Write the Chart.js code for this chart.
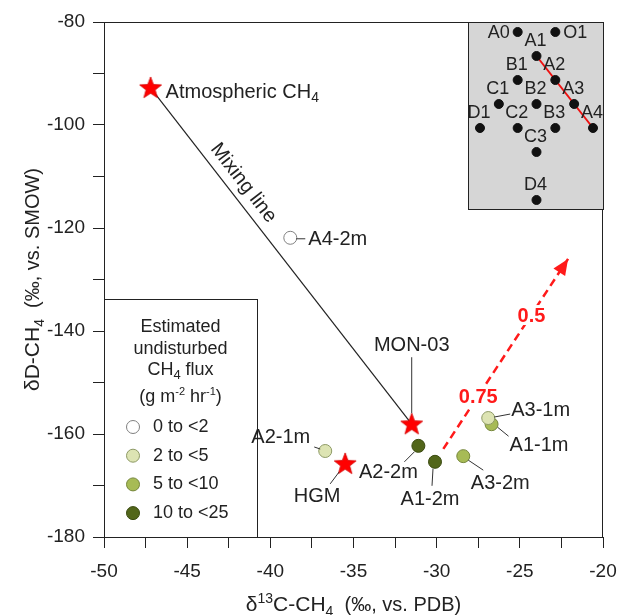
<!DOCTYPE html>
<html lang="en">
<head>
  <meta charset="UTF-8">
  <title>dD vs d13C of CH4</title>
  <script src="https://cdn.jsdelivr.net/npm/chart.js"></script>
  <style>
    body { margin: 0; background: #ffffff; }
    .wrap { position: relative; width: 620px; height: 615px; }
    #inset { position: absolute; left: 468px; top: 22px; width: 136px; height: 188px; }
  </style>
</head>
<body>
  <div class="wrap">
    <canvas id="mainChart" width="620" height="615"></canvas>
    <div id="inset"><canvas id="insetChart" width="136" height="188"></canvas></div>
  </div>

  <script>
    // samples, coloured by estimated undisturbed CH4 flux class
    const sampleNames = ['A4-2m', 'A2-1m', 'A2-2m', 'A1-2m', 'A3-2m', 'A3-1m', 'A1-1m'];
    const sampleD13C = [-38.8, -36.7, -31.1, -30.1, -28.4, -26.9, -26.7];
    const sampleDD = [-121.9, -163.3, -162.3, -165.4, -164.3, -156.9, -158.1];
    const sampleFlux = [0, 1, 3, 3, 2, 1, 2];
    const fluxClasses = ['0 to <2', '2 to <5', '5 to <10', '10 to <25'];

    // end members (stars)
    const endNames = ['Atmospheric CH4', 'MON-03', 'HGM'];
    const endD13C = [-47.2, -31.5, -35.5];
    const endDD = [-92.8, -158.1, -165.8];

    // oxidation trend arrow + fraction labels
    const oxD13C = [-29.6, -22.1];
    const oxDD = [-162.9, -126.0];
    const oxLabels = ['0.75', '0.5'];
    const oxLabelD13C = [-27.5, -24.3];
    const oxLabelDD = [-152.8, -136.9];

    // inset: sampling grid
    const siteNames = ['A0', 'O1', 'A1', 'B1', 'A2', 'C1', 'B2', 'A3', 'D1', 'C2', 'B3', 'A4', 'C3', 'D4'];
    const siteCol = [2, 4, 3, 2, 4, 1, 3, 5, 0, 2, 4, 6, 3, 3];
    const siteRow = [0, 0, 1, 2, 2, 3, 3, 3, 4, 4, 4, 4, 5, 7];
    const transect = ['A1', 'A4'];

    const FONT = '"Liberation Sans", Arial, sans-serif';
    const fluxFill = ['#ffffff', '#dde4b3', '#a7bb55', '#52661a'];
    const fluxBorder = ['#808080', '#8e9a66', '#76873c', '#3a4a10'];

    // label placement (pixels from the point)
    const labelStyle = {
      'A4-2m': { dx: 18, dy: 2, align: 'left', lead: [6, 1, 15, 1] },
      'A2-1m': { dx: -15, dy: -14, align: 'right', lead: [-11, -4, -5, -2] },
      'A2-2m': { dx: -30, dy: 27, align: 'center', lead: [-4, 6, -14, 16] },
      'A1-2m': { dx: -5, dy: 38, align: 'center', lead: [-2, 7, -3, 24] },
      'A3-2m': { dx: 37, dy: 27, align: 'center', lead: [5, 4, 20, 14] },
      'A3-1m': { dx: 23, dy: -8, align: 'left', lead: [6, -1, 22, -4] },
      'A1-1m': { dx: 18, dy: 21, align: 'left', lead: [6, 3, 17, 12] },
      'Atmospheric CH4': { dx: 15, dy: 5, align: 'left' },
      'MON-03': { dx: 0, dy: -79, align: 'center', lead: [0, -67, 0, -11] },
      'HGM': { dx: -28, dy: 33, align: 'center', lead: [-6, 8, -15, 20] }
    };

    // draw text made of pieces: [text, size, dy]
    function richText(ctx, segs, x, y, align) {
      let w = 0;
      segs.forEach(s => { ctx.font = s[1] + 'px ' + FONT; w += ctx.measureText(s[0]).width; });
      let cx = align === 'center' ? x - w / 2 : (align === 'right' ? x - w : x);
      ctx.textAlign = 'left';
      segs.forEach(s => {
        ctx.font = s[1] + 'px ' + FONT;
        ctx.fillText(s[0], cx, y + (s[2] || 0));
        cx += ctx.measureText(s[0]).width;
      });
    }

    function labelSegs(name) {
      if (name === 'Atmospheric CH4') return [['Atmospheric CH', 20], ['4', 14, 5]];
      return [[name, 20]];
    }

    // filled red star for end members
    const star = document.createElement('canvas');
    star.width = 24; star.height = 24;
    (function () {
      const c = star.getContext('2d');
      c.beginPath();
      for (let i = 0; i < 10; i++) {
        const r = i % 2 ? 4.8 : 11.5;
        const a = -Math.PI / 2 + i * Math.PI / 5;
        c.lineTo(12 + r * Math.cos(a), 12.5 + r * Math.sin(a));
      }
      c.closePath();
      c.fillStyle = '#ff0000';
      c.fill();
      c.strokeStyle = '#d40000';
      c.lineWidth = 0.8;
      c.stroke();
    })();

    const fluxSets = fluxClasses.map((cls, k) => ({
      type: 'scatter',
      label: cls,
      data: sampleNames.map((n, i) => ({ x: sampleD13C[i], y: sampleDD[i], f: sampleFlux[i] })).filter(p => p.f === k),
      backgroundColor: fluxFill[k],
      borderColor: fluxBorder[k],
      borderWidth: 1,
      pointRadius: 6.5,
      order: 1
    }));

    const framePlugin = {
      id: 'frame',
      beforeDatasetsDraw(chart) {
        const ca = chart.chartArea, ctx = chart.ctx;
        ctx.save();
        ctx.strokeStyle = '#222';
        ctx.lineWidth = 1;
        ctx.strokeRect(ca.left + 0.5, ca.top + 0.5, ca.width - 1, ca.height);
        ctx.restore();
      },
      afterDraw(chart) {
        const ctx = chart.ctx, ca = chart.chartArea;
        ctx.save();
        ctx.fillStyle = '#222';
        ctx.textBaseline = 'alphabetic';
        // x title
        richText(ctx, [['\u03b4', 21], ['13', 14, -8], ['C-CH', 21], ['4', 14, 5], ['  (\u2030, vs. PDB)', 20]],
          (ca.left + ca.right) / 2, 611, 'center');
        // y title
        ctx.translate(39, (ca.top + ca.bottom) / 2);
        ctx.rotate(-Math.PI / 2);
        richText(ctx, [['\u03b4D-CH', 21], ['4', 14, 5], ['  (\u2030, vs. SMOW)', 20]], 0, 0, 'center');
        ctx.restore();
      }
    };

    const notePlugin = {
      id: 'notes',
      afterDatasetsDraw(chart) {
        const ctx = chart.ctx, xs = chart.scales.x, ys = chart.scales.y, ca = chart.chartArea;
        ctx.save();
        ctx.textBaseline = 'middle';
        ctx.lineWidth = 1;

        // legend box
        const L = ca.left, R = ca.left + 153, T = 299, B = ca.bottom;
        ctx.fillStyle = '#ffffff';
        ctx.fillRect(L, T, R - L, B - T);
        ctx.strokeStyle = '#222';
        ctx.strokeRect(L + 0.5, T + 0.5, R - L, B - T);
        ctx.fillStyle = '#222';
        const cx = (L + R) / 2;
        richText(ctx, [['Estimated', 18]], cx, T + 28, 'center');
        richText(ctx, [['undisturbed', 18]], cx, T + 50, 'center');
        richText(ctx, [['CH', 18], ['4', 13, 5], [' flux', 18]], cx, T + 71, 'center');
        richText(ctx, [['(g m', 18], ['-2', 11, -5], [' hr', 18], ['-1', 11, -5], [')', 18]], cx, T + 98, 'center');
        fluxSets.forEach((ds, k) => {
          const y = T + 128 + k * 28.7;
          ctx.beginPath();
          ctx.arc(L + 29, y, ds.pointRadius, 0, Math.PI * 2);
          ctx.fillStyle = ds.backgroundColor;
          ctx.fill();
          ctx.strokeStyle = ds.borderColor;
          ctx.stroke();
          ctx.fillStyle = '#222';
          richText(ctx, [[ds.label, 18]], L + 49, y, 'left');
        });

        ctx.fillStyle = '#222';
        ctx.strokeStyle = '#333';
        const put = (name, px, py) => {
          const st = labelStyle[name];
          if (st.lead) {
            ctx.beginPath();
            ctx.moveTo(px + st.lead[0], py + st.lead[1]);
            ctx.lineTo(px + st.lead[2], py + st.lead[3]);
            ctx.stroke();
          }
          richText(ctx, labelSegs(name), px + st.dx, py + st.dy, st.align);
        };
        sampleNames.forEach((n, i) => put(n, xs.getPixelForValue(sampleD13C[i]), ys.getPixelForValue(sampleDD[i])));
        endNames.forEach((n, i) => put(n, xs.getPixelForValue(endD13C[i]), ys.getPixelForValue(endDD[i])));

        // mixing line label, along the line
        const ax = xs.getPixelForValue(endD13C[0]), ay = ys.getPixelForValue(endDD[0]);
        const bx = xs.getPixelForValue(endD13C[1]), by = ys.getPixelForValue(endDD[1]);
        const ang = Math.atan2(by - ay, bx - ax);
        const t = 0.31;
        ctx.save();
        ctx.translate(ax + (bx - ax) * t + 15 * Math.sin(ang), ay + (by - ay) * t - 15 * Math.cos(ang));
        ctx.rotate(ang);
        richText(ctx, [['Mixing line', 20]], 0, 0, 'center');
        ctx.restore();

        // arrow head on oxidation line
        const m = chart.getDatasetMeta(1).data;
        const a2 = Math.atan2(m[1].y - m[0].y, m[1].x - m[0].x);
        ctx.fillStyle = '#ff1a1a';
        ctx.beginPath();
        ctx.moveTo(m[1].x, m[1].y);
        ctx.lineTo(m[1].x - 16 * Math.cos(a2) + 7 * Math.sin(a2), m[1].y - 16 * Math.sin(a2) - 7 * Math.cos(a2));
        ctx.lineTo(m[1].x - 16 * Math.cos(a2) - 7 * Math.sin(a2), m[1].y - 16 * Math.sin(a2) + 7 * Math.cos(a2));
        ctx.closePath();
        ctx.fill();

        // fraction labels
        ctx.font = 'bold 20px ' + FONT;
        ctx.textAlign = 'center';
        oxLabels.forEach((txt, i) => {
          const px = xs.getPixelForValue(oxLabelD13C[i]), py = ys.getPixelForValue(oxLabelDD[i]);
          const w = ctx.measureText(txt).width;
          ctx.fillStyle = '#ffffff';
          ctx.fillRect(px - w / 2 - 2, py - 10, w + 4, 20);
          ctx.fillStyle = '#ff1a1a';
          ctx.fillText(txt, px, py + 1);
        });
        ctx.restore();
      }
    };

    const tickFont = { size: 19, family: FONT };

    new Chart(document.getElementById('mainChart'), {
      type: 'scatter',
      data: {
        datasets: [
          {
            type: 'line',
            label: 'Mixing line',
            data: [{ x: endD13C[0], y: endDD[0] }, { x: endD13C[1], y: endDD[1] }],
            borderColor: '#222',
            borderWidth: 1.2,
            pointRadius: 0,
            order: 2
          },
          {
            type: 'line',
            label: 'Oxidation',
            data: oxD13C.map((x, i) => ({ x: x, y: oxDD[i] })),
            borderColor: '#ff1a1a',
            borderWidth: 2.5,
            borderDash: [8, 5],
            pointRadius: 0,
            order: 2
          },
          ...fluxSets,
          {
            type: 'scatter',
            label: 'End members',
            data: endNames.map((n, i) => ({ x: endD13C[i], y: endDD[i] })),
            pointStyle: star,
            order: 0
          }
        ]
      },
      options: {
        responsive: false,
        animation: false,
        devicePixelRatio: 1,
        layout: { autoPadding: false, padding: { top: 22, right: 17, left: 0, bottom: 0 } },
        plugins: { legend: { display: false }, tooltip: { enabled: false } },
        scales: {
          x: {
            type: 'linear', min: -50, max: -20,
            ticks: {
              stepSize: 2.5, autoSkip: false, maxRotation: 0, padding: 12,
              color: '#222', font: tickFont,
              callback: v => (v % 5 === 0 ? v : '')
            },
            grid: { drawOnChartArea: false, tickLength: 11, color: '#222' },
            border: { color: '#222', width: 1 },
            afterFit: s => { s.height = 78; s.paddingLeft = 0; s.paddingRight = 0; }
          },
          y: {
            type: 'linear', min: -180, max: -80,
            ticks: {
              stepSize: 10, autoSkip: false, padding: 8,
              color: '#222', font: tickFont,
              callback: v => (v % 20 === 0 ? v : '')
            },
            grid: { drawOnChartArea: false, tickLength: 11, color: '#222' },
            border: { color: '#222', width: 1 },
            afterFit: s => { s.width = 104; s.paddingTop = 0; s.paddingBottom = 0; }
          }
        }
      },
      plugins: [framePlugin, notePlugin]
    });

    // inset map of the sampling grid
    const insetPlugin = {
      id: 'insetBox',
      beforeDatasetsDraw(chart) {
        const ca = chart.chartArea, ctx = chart.ctx;
        ctx.save();
        ctx.fillStyle = '#d6d6d6';
        ctx.fillRect(ca.left, ca.top, ca.width, ca.height);
        ctx.strokeStyle = '#222';
        ctx.lineWidth = 1;
        ctx.strokeRect(ca.left + 0.5, ca.top + 0.5, ca.width - 1, ca.height - 1);
        ctx.restore();
      },
      afterDatasetsDraw(chart) {
        const ctx = chart.ctx, xs = chart.scales.x, ys = chart.scales.y;
        ctx.save();
        ctx.fillStyle = '#222';
        ctx.textBaseline = 'middle';
        siteNames.forEach((n, i) => {
          const px = xs.getPixelForValue(siteCol[i]), py = ys.getPixelForValue(siteRow[i]);
          if (n === 'A0') richText(ctx, [[n, 18]], px - 8, py + 1, 'right');
          else if (n === 'O1') richText(ctx, [[n, 18]], px + 8, py + 1, 'left');
          else richText(ctx, [[n, 18]], px - 1, py - 15, 'center');
        });
        ctx.restore();
      }
    };

    const tIdx = transect.map(n => siteNames.indexOf(n));

    new Chart(document.getElementById('insetChart'), {
      type: 'scatter',
      data: {
        datasets: [
          {
            type: 'line',
            data: tIdx.map(i => ({ x: siteCol[i], y: siteRow[i] })),
            borderColor: '#ee1111',
            borderWidth: 2,
            pointRadius: 0,
            order: 1
          },
          {
            type: 'scatter',
            data: siteNames.map((n, i) => ({ x: siteCol[i], y: siteRow[i] })),
            backgroundColor: '#111',
            borderColor: '#111',
            pointRadius: 4.5,
            order: 0
          }
        ]
      },
      options: {
        responsive: false,
        animation: false,
        devicePixelRatio: 1,
        layout: { autoPadding: false, padding: 0 },
        plugins: { legend: { display: false }, tooltip: { enabled: false } },
        scales: {
          x: { type: 'linear', display: false, min: -0.637, max: 6.584 },
          y: { type: 'linear', display: false, min: -0.417, max: 7.417, reverse: true }
        }
      },
      plugins: [insetPlugin]
    });
  </script>
</body>
</html>
